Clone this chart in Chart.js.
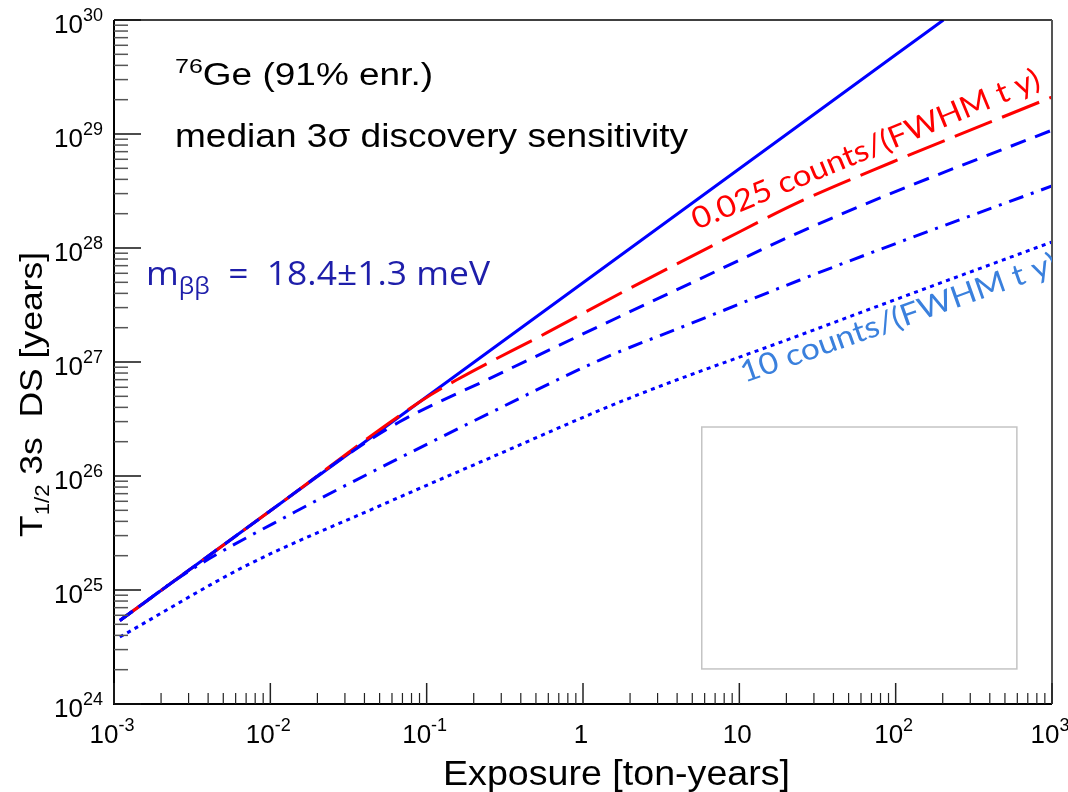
<!DOCTYPE html>
<html>
<head>
<meta charset="utf-8">
<script src="https://cdn.jsdelivr.net/npm/chart.js@4.4.1/dist/chart.umd.min.js"></script>
<style>
  html, body { margin: 0; padding: 0; background: #fff; }
</style>
</head>
<body>
<canvas id="sensCanvas" width="1068" height="792"></canvas>
<script>
// exposure [ton-years] / half-life sensitivity [years]
const solidX = [0.00109, 0.01, 0.1, 1, 10, 100, 202];
const solidY = [5.4e24, 4.95e25, 4.95e26, 4.95e27, 4.95e28, 4.95e29, 1.0e30];

const redX = [0.00109, 0.01, 0.0905, 0.155, 0.584, 1.90, 7.50, 24.4, 96.4, 1000];
const redY = [5.4e24, 4.95e25, 4.48e26, 6.95e26, 1.80e27, 4.28e27, 1.13e28, 2.55e28, 5.71e28, 2.11e29];

const dashX = [0.00109, 0.01, 0.0299, 0.0672, 0.254, 1.28, 5.58, 24.4, 91.8, 1000];
const dashY = [5.4e24, 4.95e25, 1.48e26, 2.99e26, 7.19e26, 2.07e27, 5.35e27, 1.38e28, 2.98e28, 1.08e29];

const dashDotX = [0.00109, 0.00296, 0.01433, 0.0672, 0.254, 1.28, 5.0, 24.4, 101, 1000];
const dashDotY = [5.4e24, 1.44e25, 4.83e25, 1.44e26, 3.57e26, 1.04e27, 2.2e27, 5.24e27, 1.10e28, 3.50e28];

const dotX = [0.00109, 0.00716, 0.0466, 0.242, 1.99, 24.4, 106, 1000];
const dotY = [3.87e24, 1.66e25, 5.24e25, 1.40e26, 4.83e26, 1.72e27, 3.64e27, 1.13e28];

const xTickLabels = ['10^-3', '10^-2', '10^-1', '1', '10', '10^2', '10^3'];
const xTickValues = [1e-3, 1e-2, 1e-1, 1, 10, 100, 1000];
const yTickLabels = ['10^24', '10^25', '10^26', '10^27', '10^28', '10^29', '10^30'];
const yTickValues = [1e24, 1e25, 1e26, 1e27, 1e28, 1e29, 1e30];

const toPoints = (xs, ys) => xs.map((x, i) => ({ x: x, y: ys[i] }));

// draw a run of text pieces (with super/subscripts), optionally squeezed to a width
function drawRich(ctx, parts, x, y, o) {
  const family = o.family || '"Liberation Sans", Arial, sans-serif';
  let w = 0;
  parts.forEach(p => {
    ctx.font = p.size + 'px ' + family;
    p.w = ctx.measureText(p.t).width;
    w += p.w;
  });
  const sx = o.width ? o.width / w : 1;
  let start = 0;
  if (o.align === 'center') start = -w / 2;
  if (o.align === 'right') start = -w;
  ctx.save();
  ctx.translate(x, y);
  if (o.rot) ctx.rotate(o.rot);
  ctx.scale(sx, 1);
  ctx.fillStyle = o.color || '#000';
  ctx.textBaseline = 'alphabetic';
  ctx.textAlign = 'left';
  let cx = start;
  parts.forEach(p => {
    ctx.font = p.size + 'px ' + family;
    ctx.fillText(p.t, cx, p.dy || 0);
    cx += p.w;
  });
  ctx.restore();
}

function powerParts(label, base, sup, rise) {
  const [b, e] = label.split('^');
  const parts = [{ t: b, size: base }];
  if (e !== undefined) parts.push({ t: e, size: sup, dy: -rise });
  return parts;
}

const rootFrame = {
  id: 'rootFrame',
  afterDraw(chart) {
    const ctx = chart.ctx;
    const a = chart.chartArea;
    const xs = chart.scales.x;
    const ys = chart.scales.y;

    // empty legend box
    const bx0 = xs.getPixelForValue(5.75), bx1 = xs.getPixelForValue(596);
    const by0 = ys.getPixelForValue(2.69e26), by1 = ys.getPixelForValue(2.03e24);
    ctx.save();
    ctx.strokeStyle = '#c4c4c4';
    ctx.lineWidth = 1.5;
    ctx.strokeRect(bx0, by0, bx1 - bx0, by1 - by0);
    ctx.restore();

    // frame
    ctx.save();
    ctx.lineWidth = 2;
    ctx.strokeStyle = '#000';
    ctx.beginPath();
    ctx.moveTo(a.left, a.top); ctx.lineTo(a.left, a.bottom); ctx.lineTo(a.right, a.bottom);
    ctx.stroke();
    ctx.lineWidth = 1.5;
    ctx.beginPath(); ctx.moveTo(a.left, a.top); ctx.lineTo(a.right, a.top); ctx.stroke();
    ctx.strokeStyle = '#555';
    ctx.lineWidth = 2;
    ctx.beginPath(); ctx.moveTo(a.right, a.top); ctx.lineTo(a.right, a.bottom); ctx.stroke();

    // ticks, pointing into the frame
    ctx.strokeStyle = '#222';
    for (let d = -3; d <= 3; d++) {
      for (let m = 1; m <= 9; m++) {
        const v = m * Math.pow(10, d);
        if (v > 1000 * 1.0001) continue;
        const px = xs.getPixelForValue(v);
        const len = m === 1 ? 21 : 11;
        ctx.lineWidth = m === 1 ? 1.5 : 1.2;
        ctx.beginPath(); ctx.moveTo(px, a.bottom); ctx.lineTo(px, a.bottom - len); ctx.stroke();
      }
    }
    for (let d = 24; d <= 30; d++) {
      for (let m = 1; m <= 9; m++) {
        const v = m * Math.pow(10, d);
        if (v > 1e30 * 1.0001) continue;
        const py = ys.getPixelForValue(v);
        const len = m === 1 ? 27 : 14;
        ctx.lineWidth = 1.5;
        ctx.strokeStyle = m === 1 ? '#111' : '#555';
        ctx.beginPath(); ctx.moveTo(a.left, py); ctx.lineTo(a.left + len, py); ctx.stroke();
      }
    }
    ctx.restore();

    // tick labels
    xTickLabels.forEach((lab, i) => {
      const px = xs.getPixelForValue(xTickValues[i]);
      drawRich(ctx, powerParts(lab, 26, 18, 12), px - 2, a.bottom + 39, { align: 'center' });
    });
    yTickLabels.forEach((lab, i) => {
      const py = ys.getPixelForValue(yTickValues[i]);
      drawRich(ctx, powerParts(lab, 26, 18, 12), a.left - 11, py + 13, { align: 'right' });
    });

    // axis titles
    drawRich(ctx, [{ t: 'Exposure [ton-years]', size: 35 }], 443, 785, { width: 347 });
    drawRich(ctx, [
      { t: 'T', size: 32 },
      { t: '1/2', size: 20, dy: 7 },
      { t: ' 3s  DS [years]', size: 32 }
    ], 42, 537, { rot: -Math.PI / 2, width: 285 });

    // annotations
    drawRich(ctx, [{ t: '76', size: 21, dy: -12 }, { t: 'Ge (91% enr.)', size: 31 }], 175, 85, { width: 258 });
    drawRich(ctx, [{ t: 'median 3σ discovery sensitivity', size: 34 }], 175, 147, { width: 513 });
    drawRich(ctx, [
      { t: 'm', size: 33 },
      { t: 'ββ', size: 23, dy: 9 },
      { t: '  =  18.4±1.3 meV', size: 33 }
    ], 146, 285, { family: '"Open Sans", "Noto Sans", sans-serif', color: '#1e1eaa', width: 344 });

    ctx.save();
    ctx.beginPath();
    ctx.rect(a.left, a.top, a.right - a.left, a.bottom - a.top);
    ctx.clip();
    drawRich(ctx, [{ t: '0.025 counts/(FWHM t y)', size: 30 }],
      xs.getPixelForValue(5.35), ys.getPixelForValue(1.44e28),
      { family: 'Lato, "Open Sans", sans-serif', color: '#ff0000', rot: -22.5 * Math.PI / 180, width: 374 });
    drawRich(ctx, [{ t: '10 counts/(FWHM t y)', size: 30 }],
      xs.getPixelForValue(10.8), ys.getPixelForValue(6.55e26),
      { family: 'Lato, "Open Sans", sans-serif', color: '#3a80dd', rot: -19.5 * Math.PI / 180, width: 334 });
    ctx.restore();
  }
};

const lineStyle = { borderWidth: 3, pointRadius: 0, fill: false, cubicInterpolationMode: 'monotone', borderCapStyle: 'butt' };

new Chart(document.getElementById('sensCanvas').getContext('2d'), {
  type: 'line',
  data: {
    datasets: [
      Object.assign({ label: 'background free', data: toPoints(solidX, solidY), borderColor: '#0000ff', order: 5 }, lineStyle),
      Object.assign({ label: '0.025 counts/(FWHM t y)', data: toPoints(redX, redY), borderColor: '#ff0000', borderDash: [40, 11], order: 4 }, lineStyle),
      Object.assign({ label: 'dashed', data: toPoints(dashX, dashY), borderColor: '#0000ff', borderDash: [16, 10], order: 3 }, lineStyle),
      Object.assign({ label: 'dash-dot', data: toPoints(dashDotX, dashDotY), borderColor: '#0000ff', borderDash: [15, 8, 3, 8], order: 2 }, lineStyle),
      Object.assign({ label: '10 counts/(FWHM t y)', data: toPoints(dotX, dotY), borderColor: '#0000ff', borderDash: [4, 4.5], order: 1 }, lineStyle)
    ]
  },
  options: {
    responsive: false,
    animation: false,
    layout: { padding: { top: 20, right: 16, left: 0, bottom: 0 } },
    plugins: { legend: { display: false }, tooltip: { enabled: false } },
    scales: {
      x: {
        type: 'logarithmic', min: 1e-3, max: 1e3,
        ticks: { display: false }, grid: { display: false }, border: { display: false },
        afterFit(s) { s.height = 88; }
      },
      y: {
        type: 'logarithmic', min: 1e24, max: 1e30,
        ticks: { display: false }, grid: { display: false }, border: { display: false },
        afterFit(s) { s.width = 114; }
      }
    }
  },
  plugins: [rootFrame]
});
</script>
</body>
</html>
